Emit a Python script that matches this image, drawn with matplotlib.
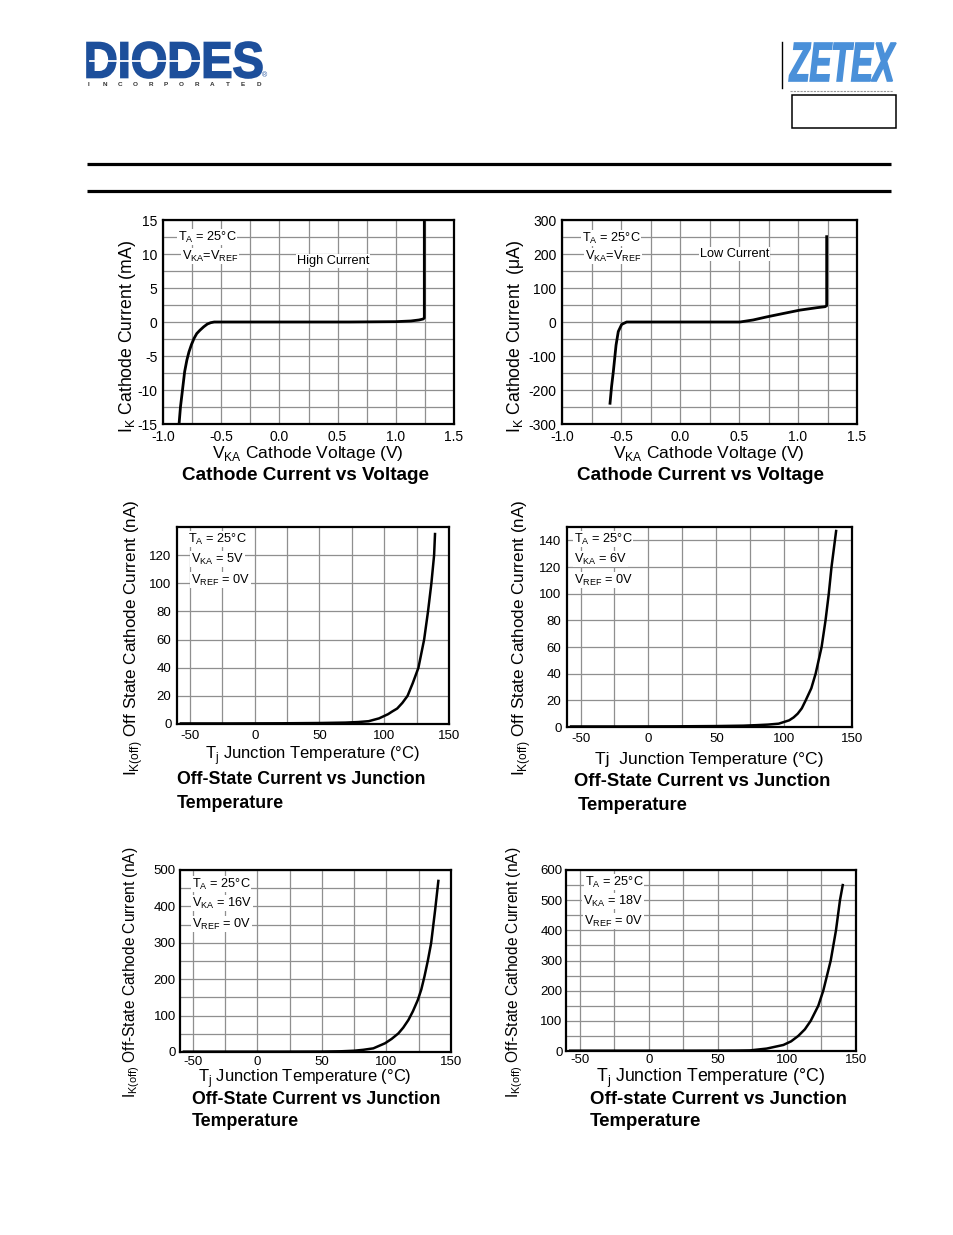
import numpy as np
import matplotlib
matplotlib.use('Agg')
import matplotlib.pyplot as plt
from matplotlib.textpath import TextPath
from matplotlib.patches import PathPatch, Rectangle
from matplotlib.font_manager import FontProperties
from matplotlib.transforms import Affine2D

plt.rcParams['font.family'] = ['Liberation Sans', 'DejaVu Sans']
plt.rcParams['mathtext.fontset'] = 'custom'
plt.rcParams['mathtext.rm'] = 'Liberation Sans'
plt.rcParams['axes.unicode_minus'] = False

W, H = 954, 1235

# cathode current vs voltage, high current range (V, mA)
hc_v = [-0.862, -0.85, -0.834, -0.814, -0.795, -0.777, -0.755, -0.733, -0.71, -0.682,
        -0.65, -0.619, -0.59, -0.56, 0.0, 0.6, 1.0, 1.13, 1.2, 1.235, 1.245, 1.245]
hc_i = [-15, -12.5, -10.2, -7.3, -5.6, -4.4, -3.3, -2.4, -1.7, -1.2,
        -0.7, -0.3, -0.1, 0, 0, 0, 0.05, 0.15, 0.3, 0.44, 0.6, 15]

# low current range (V, uA)
lc_v = [-0.593, -0.58, -0.565, -0.542, -0.523, -0.494, -0.452, -0.3, 0.0, 0.3,
        0.508, 0.62, 0.735, 0.875, 1.017, 1.158, 1.229, 1.243, 1.243]
lc_i = [-239, -190, -146, -68, -28, -7, 0, 0, 0, 0,
        0, 6, 15, 25, 35, 42, 45, 48, 251]

# off-state current vs junction temperature (degC, nA)
off5_t = [-57, -20, 20, 50, 70, 80, 88, 96, 103, 106, 110, 114, 118, 122, 126.4, 130.8, 133.8, 136.4, 138.5, 139.2]
off5_i = [0.4, 0.4, 0.5, 0.7, 1.0, 1.4, 2, 4, 7, 8.8, 11, 15, 20, 29, 40, 60, 80, 100, 120, 135]

off6_t = [-57, -20, 20, 50, 70, 80, 88, 96, 103.7, 107, 110, 113, 115.9, 120, 123.2, 127.6, 130.5, 132.9, 134.9, 138.3]
off6_i = [0.4, 0.4, 0.5, 0.7, 1.0, 1.4, 1.8, 2.5, 5, 7.2, 10, 14, 20, 29, 40, 60, 80, 100, 120, 147]

off16_t = [-57, -20, 20, 50, 65, 75, 82, 89.8, 98.9, 104, 109.2, 113, 117, 120.5, 124.3, 127, 129.4, 132, 134.6, 137.7, 140.2]
off16_i = [1, 1, 1, 1.2, 2, 3.5, 6, 10, 24, 36, 51, 67, 88, 112, 143, 172, 207, 250, 299, 390, 470]

off18_t = [-57, -20, 20, 50, 65, 73.2, 85.3, 97.4, 103, 108.2, 113, 117.2, 122.7, 126.3, 131.7, 135.5, 138.4, 140.4]
off18_i = [1, 1, 1, 1.2, 1.5, 2, 8, 20, 32, 50, 72, 100, 150, 200, 300, 400, 500, 550]

v_ticks = [-1.0, -0.5, 0.0, 0.5, 1.0, 1.5]
v_labels = ['-1.0', '-0.5', '0.0', '0.5', '1.0', '1.5']
t_ticks = [-50, 0, 50, 100, 150]

fig = plt.figure(figsize=(W / 100, H / 100), dpi=100)

# page overlay in pixel coordinates (y down)
page = fig.add_axes([0, 0, 1, 1])
page.set_xlim(0, W)
page.set_ylim(H, 0)
page.axis('off')


def logo_text(s, x0, y0, x1, y1, color, style='normal'):
    fp = FontProperties(family='Liberation Sans', weight='bold', style=style)
    tp = TextPath((0, 0), s, size=10, prop=fp)
    bb = tp.get_extents()
    tr = Affine2D().translate(-bb.x0, -bb.y0).scale((x1 - x0) / bb.width, -(y1 - y0) / bb.height).translate(x0, y1)
    page.add_patch(PathPatch(tr.transform_path(tp), fc=color, ec=color, lw=1.2))


logo_text('DIODES', 87, 42, 262, 78, '#1d4f9b')
page.plot([90, 200], [60.5, 60.5], color='white', lw=1.3)
for k, ch in enumerate('INCORPORATED'):
    page.text(89 + k * 15.4, 84.5, ch, fontsize=4.6, fontweight='bold', color='#333333',
              ha='center', va='center')
page.text(265, 76, '®', fontsize=5, color='#1d4f9b', ha='center', va='center')

page.plot([782, 782], [42, 88], color='black', lw=1.0)
logo_text('ZETEX', 789, 43, 896, 81, '#4a90d9', style='italic')
page.plot([790, 893], [91, 91], color='#999999', lw=0.8, ls=(0, (2, 1)))
page.add_patch(Rectangle((792, 95), 104, 33, fill=False, ec='black', lw=1.1))

page.plot([87, 891], [164, 164], color='black', lw=2.3, solid_capstyle='butt')
page.plot([87, 891], [191, 191], color='black', lw=2.3, solid_capstyle='butt')


def add_ax(l, t, r, b):
    return fig.add_axes([l / W, 1 - b / H, (r - l) / W, (b - t) / H])


def style_ax(ax, fs=9.5, pad=4):
    ax.grid(which='both', color='#8f8f8f', lw=0.9)
    ax.set_axisbelow(True)
    ax.tick_params(which='both', length=0, labelsize=fs, pad=pad)
    for sp in ax.spines.values():
        sp.set_linewidth(1.6)


def txt(x, y, s, **kw):
    kw.setdefault('fontsize', 9)
    kw.setdefault('va', 'center')
    fig.text(x / W, 1 - y / H, s, **kw)


def note(x, y, s, fs=9.2):
    txt(x, y, s, fontsize=fs, ha='left', bbox=dict(fc='white', ec='none', pad=0.5))


# panel 1 - high current
ax1 = add_ax(163, 220, 454, 424)
ax1.plot(hc_v, hc_i, color='black', lw=2)
ax1.set_xlim(-1.0, 1.5)
ax1.set_ylim(-15, 15)
ax1.set_xticks(v_ticks)
ax1.set_xticklabels(v_labels)
ax1.set_xticks(np.arange(-1.0, 1.51, 0.25), minor=True)
ax1.set_yticks(np.arange(-15, 16, 5))
ax1.set_yticks(np.arange(-15, 15.1, 2.5), minor=True)
style_ax(ax1, 10)

# panel 2 - low current
ax2 = add_ax(562, 220, 857, 424)
ax2.plot(lc_v, lc_i, color='black', lw=2)
ax2.set_xlim(-1.0, 1.5)
ax2.set_ylim(-300, 300)
ax2.set_xticks(v_ticks)
ax2.set_xticklabels(v_labels)
ax2.set_xticks(np.arange(-1.0, 1.51, 0.25), minor=True)
ax2.set_yticks(np.arange(-300, 301, 100))
ax2.set_yticks(np.arange(-300, 301, 50), minor=True)
style_ax(ax2, 10)

# panel 3 - 5V
ax3 = add_ax(177, 527, 449, 724)
ax3.plot(off5_t, off5_i, color='black', lw=1.8)
ax3.set_xlim(-60, 150)
ax3.set_ylim(0, 140)
ax3.set_xticks(t_ticks)
ax3.set_xticks(np.arange(-50, 151, 25), minor=True)
ax3.set_yticks(np.arange(0, 121, 20))
style_ax(ax3)

# panel 4 - 6V
ax4 = add_ax(567, 527, 852, 727)
ax4.plot(off6_t, off6_i, color='black', lw=1.8)
ax4.set_xlim(-60, 150)
ax4.set_ylim(0, 150)
ax4.set_xticks(t_ticks)
ax4.set_xticks(np.arange(-50, 151, 25), minor=True)
ax4.set_yticks(np.arange(0, 141, 20))
style_ax(ax4)

# panel 5 - 16V
ax5 = add_ax(180, 870, 451, 1052)
ax5.plot(off16_t, off16_i, color='black', lw=1.8)
ax5.set_xlim(-60, 150)
ax5.set_ylim(0, 500)
ax5.set_xticks(t_ticks)
ax5.set_xticks(np.arange(-50, 151, 25), minor=True)
ax5.set_yticks(np.arange(0, 501, 100))
ax5.set_yticks(np.arange(0, 501, 50), minor=True)
style_ax(ax5, pad=3)

# panel 6 - 18V
ax6 = add_ax(566, 870, 856, 1051)
ax6.plot(off18_t, off18_i, color='black', lw=1.8)
ax6.set_xlim(-60, 150)
ax6.set_ylim(0, 600)
ax6.set_xticks(t_ticks)
ax6.set_xticks(np.arange(-50, 151, 25), minor=True)
ax6.set_yticks(np.arange(0, 601, 100))
ax6.set_yticks(np.arange(0, 601, 50), minor=True)
style_ax(ax6, pad=2.5)

# axis labels
txt(128, 336, r'I$_\mathregular{K}$ Cathode Current (mA)', fontsize=12.7, rotation=90, ha='center')
txt(516, 336, r'I$_\mathregular{K}$ Cathode Current  ($\mathregular{\mu}$A)', fontsize=12.7, rotation=90, ha='center')
txt(134, 638, r'I$_\mathregular{K(off)}$ Off State Cathode Current (nA)', fontsize=12.3, rotation=90, ha='center')
txt(522, 638, r'I$_\mathregular{K(off)}$ Off State Cathode Current (nA)', fontsize=12.3, rotation=90, ha='center')
txt(132, 972, r'I$_\mathregular{K(off)}$ Off-State Cathode Current (nA)', fontsize=11.2, rotation=90, ha='center')
txt(515, 972, r'I$_\mathregular{K(off)}$ Off-State Cathode Current (nA)', fontsize=11.2, rotation=90, ha='center')

txt(308, 458, r'V$_\mathregular{KA}$ Cathode Voltage (V)', fontsize=12.5, ha='center', va='baseline')
txt(709, 458, r'V$_\mathregular{KA}$ Cathode Voltage (V)', fontsize=12.5, ha='center', va='baseline')
txt(313, 759, r'T$_\mathregular{j}$ Junction Temperature (°C)', fontsize=12, ha='center', va='baseline')
txt(709, 764, 'Tj  Junction Temperature (°C)', fontsize=12.6, ha='center', va='baseline')
txt(305, 1082, r'T$_\mathregular{j}$ Junction Temperature (°C)', fontsize=11.9, ha='center', va='baseline')
txt(711, 1082, r'T$_\mathregular{j}$ Junction Temperature (°C)', fontsize=12.8, ha='center', va='baseline')

# chart titles
txt(305, 475, 'Cathode Current vs Voltage', fontsize=13.6, fontweight='bold', ha='center')
txt(701, 475, 'Cathode Current vs Voltage', fontsize=13.6, fontweight='bold', ha='center')
txt(177, 779, 'Off-State Current vs Junction', fontsize=12.8, fontweight='bold', ha='left')
txt(177, 803, 'Temperature', fontsize=12.8, fontweight='bold', ha='left')
txt(574, 781, 'Off-State Current vs Junction', fontsize=13.2, fontweight='bold', ha='left')
txt(578, 805, 'Temperature', fontsize=13.2, fontweight='bold', ha='left')
txt(192, 1100, 'Off-State Current vs Junction', fontsize=12.8, fontweight='bold', ha='left')
txt(192, 1122, 'Temperature', fontsize=12.8, fontweight='bold', ha='left')
txt(590, 1100, 'Off-state Current vs Junction', fontsize=13.4, fontweight='bold', ha='left')
txt(590, 1122, 'Temperature', fontsize=13.4, fontweight='bold', ha='left')

# condition notes
note(178, 237, r'T$_\mathregular{A}$ = 25°C')
note(182, 256, r'V$_\mathregular{KA}$=V$_\mathregular{REF}$')
note(297, 261, 'High Current')
note(582, 238, r'T$_\mathregular{A}$ = 25°C')
note(585, 256, r'V$_\mathregular{KA}$=V$_\mathregular{REF}$')
note(700, 254, 'Low Current')

note(188, 539, r'T$_\mathregular{A}$ = 25°C')
note(191, 559, r'V$_\mathregular{KA}$ = 5V')
note(191, 580, r'V$_\mathregular{REF}$ = 0V')
note(574, 539, r'T$_\mathregular{A}$ = 25°C')
note(574, 559, r'V$_\mathregular{KA}$ = 6V')
note(574, 580, r'V$_\mathregular{REF}$ = 0V')

note(192, 884, r'T$_\mathregular{A}$ = 25°C')
note(192, 903, r'V$_\mathregular{KA}$ = 16V')
note(192, 924, r'V$_\mathregular{REF}$ = 0V')
note(585, 882, r'T$_\mathregular{A}$ = 25°C')
note(583, 901, r'V$_\mathregular{KA}$ = 18V')
note(584, 921, r'V$_\mathregular{REF}$ = 0V')

fig.savefig('out.png', dpi=100)
